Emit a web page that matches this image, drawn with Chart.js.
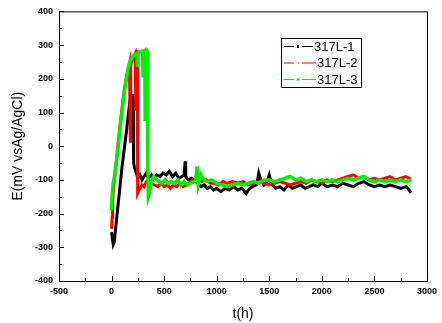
<!DOCTYPE html>
<html>
<head>
<meta charset="utf-8">
<script src="https://cdn.jsdelivr.net/npm/chart.js@4.4.1/dist/chart.umd.min.js"></script>
<style>
  body { margin: 0; background: #fff; }
  #wrap { width: 442px; height: 323px; }
</style>
</head>
<body>
<div id="wrap"><canvas id="myChart" width="442" height="323"></canvas></div>
<script>
// 317L-1 (black)
const t1 = [0, 8, 16, 25, 40, 60, 80, 100, 120, 140, 160, 175, 185, 195, 200, 205, 208, 212, 220, 235, 250, 270, 290, 310, 330, 350, 380, 400, 430, 460, 490, 520, 550, 580, 610, 640, 670, 690, 700, 705, 730, 760, 790, 820, 850, 880, 910, 940, 970, 1000, 1040, 1080, 1120, 1160, 1200, 1240, 1280, 1300, 1340, 1380, 1400, 1420, 1450, 1480, 1500, 1520, 1560, 1600, 1640, 1680, 1720, 1760, 1800, 1840, 1880, 1920, 1960, 2000, 2050, 2100, 2150, 2200, 2250, 2300, 2350, 2400, 2450, 2500, 2550, 2600, 2650, 2700, 2750, 2800, 2830, 2850];
const e1 = [-255, -275, -292, -285, -240, -180, -120, -60, -10, 40, 95, 135, 150, 145, 155, 140, -30, -50, -65, -80, -95, -85, -100, -90, -80, -95, -85, -95, -85, -90, -80, -85, -75, -90, -80, -95, -90, -85, -45, -90, -100, -95, -100, -110, -120, -115, -125, -120, -130, -125, -135, -125, -130, -120, -130, -125, -140, -130, -120, -115, -80, -100, -115, -105, -85, -110, -125, -120, -130, -115, -125, -120, -115, -125, -120, -115, -120, -110, -120, -115, -120, -110, -115, -120, -110, -105, -115, -120, -115, -120, -115, -120, -125, -120, -130, -138];

// 317L-2 (red)
const t2 = [0, 5, 10, 20, 40, 60, 80, 100, 120, 140, 160, 170, 175, 178, 182, 200, 220, 225, 228, 232, 240, 245, 248, 255, 270, 290, 310, 330, 350, 380, 410, 440, 470, 500, 530, 560, 590, 620, 650, 680, 710, 740, 770, 800, 830, 860, 900, 940, 980, 1020, 1060, 1100, 1150, 1200, 1250, 1300, 1350, 1400, 1450, 1500, 1550, 1600, 1650, 1700, 1750, 1800, 1850, 1900, 1950, 2000, 2050, 2100, 2150, 2200, 2250, 2300, 2350, 2400, 2450, 2500, 2550, 2600, 2650, 2700, 2750, 2800, 2850];
const e2 = [-245, -210, -170, -120, -60, 0, 60, 115, 165, 200, 230, 245, 245, 15, 240, 262, 272, 275, 105, 270, 280, 280, -140, -135, -125, -115, -120, -105, -100, -110, -115, -120, -110, -120, -115, -125, -115, -120, -110, -120, -115, -110, -100, -105, -95, -105, -100, -110, -110, -115, -105, -110, -105, -110, -105, -115, -110, -105, -110, -115, -110, -105, -110, -115, -110, -105, -110, -100, -105, -110, -100, -105, -100, -95, -90, -85, -95, -90, -100, -95, -100, -95, -90, -100, -95, -90, -98];

// 317L-3 (green)
const t3 = [0, 5, 15, 25, 40, 60, 80, 100, 120, 140, 160, 180, 200, 220, 240, 245, 250, 260, 280, 295, 300, 305, 315, 320, 325, 335, 340, 345, 350, 360, 370, 385, 400, 420, 450, 480, 510, 540, 570, 600, 630, 660, 690, 720, 750, 780, 800, 815, 825, 850, 870, 900, 950, 1000, 1050, 1100, 1150, 1200, 1250, 1300, 1350, 1400, 1450, 1500, 1550, 1600, 1650, 1700, 1750, 1800, 1850, 1900, 1950, 2000, 2050, 2100, 2150, 2200, 2250, 2300, 2350, 2400, 2450, 2500, 2550, 2600, 2650, 2700, 2750, 2800, 2850];
const e3 = [-190, -150, -110, -95, -60, -10, 50, 105, 155, 200, 235, 255, 265, 272, 275, 240, 275, 278, 282, 282, 210, 280, 283, 80, 280, 283, 280, -60, -150, -140, -120, -100, -90, -95, -105, -110, -100, -110, -105, -110, -100, -115, -105, -115, -110, -105, -100, -60, -115, -85, -95, -105, -100, -110, -115, -120, -115, -110, -115, -110, -105, -110, -100, -100, -105, -100, -95, -90, -100, -95, -105, -100, -105, -100, -105, -100, -105, -100, -95, -100, -95, -90, -100, -105, -100, -105, -100, -105, -100, -105, -100];

const seriesNames = ['317L-1', '317L-2', '317L-3'];
const seriesColors = ['#000000', '#ff0000', '#00ee00'];

const xTicks = [-500, 0, 500, 1000, 1500, 2000, 2500, 3000];
const yTicks = [-400, -300, -200, -100, 0, 100, 200, 300, 400];

function pts(t, e) {
  return t.map((v, i) => ({ x: v, y: e[i] }));
}

// frame + inward ticks
const frame = {
  id: 'frame',
  afterDraw(chart) {
    const c = chart.ctx, a = chart.chartArea;
    const xs = chart.scales.x, ys = chart.scales.y;
    c.save();
    c.strokeStyle = '#000';
    c.lineWidth = 1;
    c.strokeRect(a.left + 0.5, a.top + 0.5, a.right - a.left, a.bottom - a.top);
    c.beginPath();
    for (let v = -500; v <= 3000; v += 250) {
      const px = Math.round(xs.getPixelForValue(v)) + 0.5;
      const len = v % 500 === 0 ? 5 : 3;
      c.moveTo(px, a.bottom);
      c.lineTo(px, a.bottom - len);
    }
    for (let v = -400; v <= 400; v += 50) {
      const py = Math.round(ys.getPixelForValue(v)) + 0.5;
      const len = v % 100 === 0 ? 5 : 3;
      c.moveTo(a.left, py);
      c.lineTo(a.left + len, py);
    }
    c.stroke();
    c.restore();
  }
};

// legend box
const legendBox = {
  id: 'legendBox',
  afterDraw(chart) {
    const c = chart.ctx;
    c.save();
    c.strokeStyle = '#000';
    c.lineWidth = 1;
    c.strokeRect(281.5, 38.5, 80, 49);
    const rows = [46.5, 63, 79.5];
    const textX = [314, 317, 317];
    c.font = '13px "Liberation Sans", Arial, sans-serif';
    c.textBaseline = 'middle';
    rows.forEach((y, i) => {
      c.strokeStyle = seriesColors[i];
      c.fillStyle = seriesColors[i];
      c.beginPath();
      c.moveTo(284, y); c.lineTo(294, y);
      c.moveTo(302, y); c.lineTo(textX[i] - 1, y);
      c.stroke();
      if (i === 0) c.fillRect(297, y - 1.5, 2, 3);
      if (i === 1) c.fillRect(298, y - 0.5, 1, 1);
      if (i === 2) {
        c.beginPath();
        c.moveTo(298, y - 2); c.lineTo(300, y + 1); c.lineTo(296, y + 1);
        c.closePath(); c.fill();
      }
      c.fillStyle = '#000';
      c.fillText(seriesNames[i], textX[i], y + 0.5);
    });
    c.restore();
  }
};

const ctx = document.getElementById('myChart');
Chart.defaults.font.family = '"Liberation Sans", Arial, sans-serif';
Chart.defaults.color = '#000';

new Chart(ctx, {
  type: 'line',
  data: {
    datasets: [
      { label: seriesNames[0], data: pts(t1, e1), borderColor: seriesColors[0], borderWidth: 3, order: 3 },
      { label: seriesNames[1], data: pts(t2, e2), borderColor: seriesColors[1], borderWidth: 3, order: 2 },
      { label: seriesNames[2], data: pts(t3, e3), borderColor: seriesColors[2], borderWidth: 3.5, order: 1 }
    ]
  },
  options: {
    responsive: false,
    animation: false,
    elements: { point: { radius: 0 }, line: { tension: 0 } },
    layout: { padding: { left: 0, top: 11, right: 15, bottom: 0 } },
    scales: {
      x: {
        type: 'linear',
        min: -500,
        max: 3000,
        afterBuildTicks: s => { s.ticks = xTicks.map(v => ({ value: v })); },
        afterFit: s => { s.height = 42; },
        grid: { display: false, drawTicks: false },
        border: { display: false },
        ticks: { font: { size: 9, weight: 'bold' }, padding: 5, maxRotation: 0, autoSkip: false, callback: v => String(v) },
        title: { display: true, text: 't(h)', font: { size: 14 }, padding: { top: 4, bottom: 0 } }
      },
      y: {
        type: 'linear',
        min: -400,
        max: 400,
        afterBuildTicks: s => { s.ticks = yTicks.map(v => ({ value: v })); },
        afterFit: s => { s.width = 59; },
        grid: { display: false, drawTicks: false },
        border: { display: false },
        ticks: { font: { size: 9, weight: 'bold' }, padding: 6, autoSkip: false, callback: v => String(v) },
        title: { display: true, text: 'E(mV vsAg/AgCl)', font: { size: 14 }, padding: { top: 10, bottom: 0 } }
      }
    },
    plugins: {
      legend: { display: false },
      tooltip: { enabled: false }
    }
  },
  plugins: [frame, legendBox]
});
</script>
</body>
</html>
